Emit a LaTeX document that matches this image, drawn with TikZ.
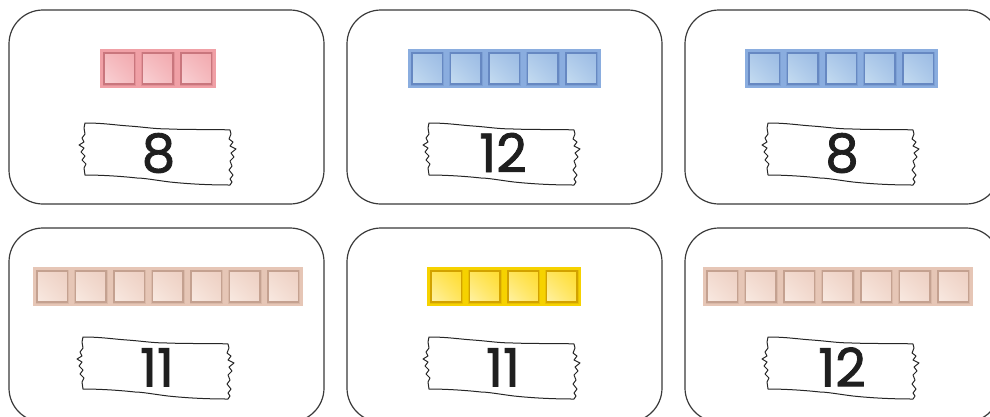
\documentclass[tikz,border=0pt]{standalone}
\usepackage{fontspec}
\newfontfamily\numfont{Poppins}[FakeBold=1.6]
\usetikzlibrary{shadings}
\definecolor{cardline}{HTML}{3A3A3A}
\definecolor{redbg}{HTML}{F0A0A6}
\definecolor{redbd}{HTML}{C9767D}
\definecolor{redlt}{HTML}{F9D3D6}
\definecolor{redmd}{HTML}{F2A9AE}
\definecolor{bluebg}{HTML}{8AADDF}
\definecolor{bluebd}{HTML}{6688C2}
\definecolor{bluelt}{HTML}{C6DDF1}
\definecolor{bluemd}{HTML}{9BBBE4}
\definecolor{tanbg}{HTML}{E6C6B6}
\definecolor{tanbd}{HTML}{C4A190}
\definecolor{tanlt}{HTML}{F9EAE2}
\definecolor{tanmd}{HTML}{EDCFC2}
\definecolor{yelbg}{HTML}{F6D200}
\definecolor{yelbd}{HTML}{D2A200}
\definecolor{yellt}{HTML}{FFF2A6}
\definecolor{yelmd}{HTML}{FFDC2E}
\tikzset{
  card/.style={draw=cardline, line width=1.2pt, rounded corners=34pt},
  tapeshape/.style={draw=black!85, line width=1pt, fill=white, line join=round},
  num/.style={font=\numfont\fontsize{53}{53}\selectfont, anchor=base, inner sep=0pt, text=black!88},
}
\newcommand\cubestrip[4]{%
  \fill[#4bg] (#1,#2) rectangle ++({#3*38.5},39);
  \foreach \k in {1,...,#3}{
    \draw[#4bd, line width=3pt, opacity=0.35]
      ({#1+(\k-1)*38.5+4},{#2+4}) rectangle ++(30.5,31);
    \shade[lower left=#4lt, upper right=#4md, upper left=#4md!60!#4lt, lower right=#4md!60!#4lt]
      ({#1+(\k-1)*38.5+4},{#2+4}) rectangle ++(30.5,31);
    \draw[#4bd, line width=1.5pt]
      ({#1+(\k-1)*38.5+4},{#2+4}) rectangle ++(30.5,31);
  }%
}
\newcommand\tapeat[2]{%
  \draw[tapeshape, shift={(#1,#2)}]
    (-74,-31) .. controls (-55,-31) and (-45,-29) .. (-30,-28)
    .. controls (-15,-27) and (-5,-25) .. (11,-25)
    .. controls (35,-24) and (55,-25) .. (71,-24)
    -- (72,-20) -- (70,-15) -- (74,-12) -- (71,-8) -- (77,-5) -- (72,-1)
    -- (75,3) -- (71,7) -- (73,12) -- (70,16) -- (74,21) -- (71,25) -- (73,28) -- (71,31)
    .. controls (50,31) and (30,30) .. (11,28)
    .. controls (-5,26) and (-15,24) .. (-22,24)
    .. controls (-40,22) and (-60,21) .. (-74,21)
    -- (-75,14) -- (-73,10) -- (-77,6) -- (-74,2) -- (-78,-2) -- (-75,-6)
    -- (-80,-9) -- (-75,-12) -- (-77,-16) -- (-74,-20) -- (-75,-26) -- cycle;%
}
\begin{document}
\begin{tikzpicture}[x=1pt,y=-1pt]
  \useasboundingbox (0,0) rectangle (990,416);
  \fill[white] (0,0) rectangle (990,416);
  \clip (0,0) rectangle (990,416);
  % cards
  \draw[card] (9,10) rectangle ++(315,194);
  \draw[card] (347,10) rectangle ++(315,194);
  \draw[card] (685,10) rectangle ++(315,194);
  \draw[card] (9,228) rectangle ++(315,194);
  \draw[card] (347,228) rectangle ++(315,194);
  \draw[card] (685,228) rectangle ++(315,194);
  % cube strips
  \cubestrip{100}{49}{3}{red}
  \cubestrip{408}{49}{5}{blue}
  \cubestrip{745}{49}{5}{blue}
  \cubestrip{33}{267}{7}{tan}
  \cubestrip{427}{267}{4}{yel}
  \cubestrip{703}{267}{7}{tan}
  % tapes
  \tapeat{159}{154}
  \tapeat{503}{154}
  \tapeat{842}{154}
  \tapeat{157}{368}
  \tapeat{503}{368}
  \tapeat{842}{368}
  % numbers
  \node[num] (n1) at (158.5,172) {8};
  \node[num] (n2) at (503,172) {12};
  \node[num] (n3) at (842,172) {8};
  \node[num] (n4) at (157,386.5) {11};
  \node[num] (n5) at (503,386.5) {11};
  \node[num] (n6) at (842,386.5) {12};
\end{tikzpicture}
\end{document}
